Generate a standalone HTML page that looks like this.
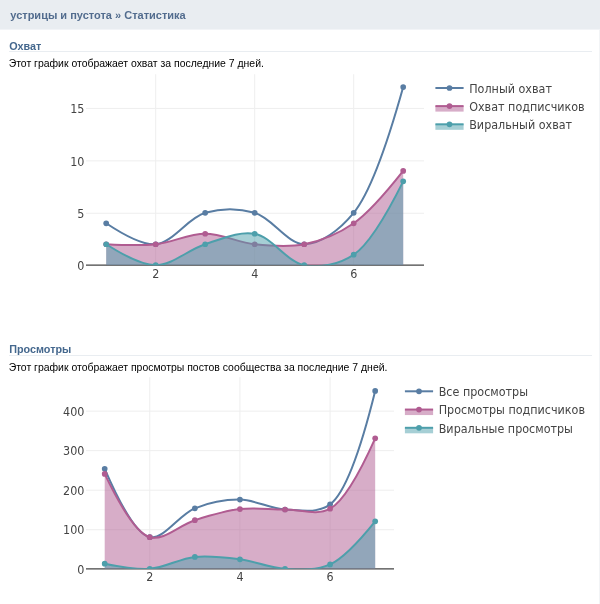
<!DOCTYPE html>
<html lang="ru"><head><meta charset="utf-8"><title>Статистика</title>
<style>
html,body{margin:0;padding:0;background:#fff;}
body{width:600px;height:604px;position:relative;overflow:hidden;font-family:"Liberation Sans",sans-serif;color:#000;}
.hdr{position:absolute;left:0;top:0;width:600px;height:30px;background:linear-gradient(to bottom,#e9edf1 29px,#f2f4f7 29px);}
  .hdr span{position:absolute;left:10.3px;top:9.2px;font-weight:bold;font-size:11px;line-height:13px;color:#526c8e;white-space:nowrap;}
.ttl{position:absolute;left:9.2px;width:582.8px;font-weight:bold;font-size:10.8px;line-height:12px;color:#45688e;border-bottom:1px solid #e9edf1;white-space:nowrap;}
.dsc{position:absolute;left:8.7px;font-size:10.45px;line-height:12px;color:#000;white-space:nowrap;transform:scaleY(1.05);transform-origin:0 9.5px;}
svg{position:absolute;left:0;top:0;}
svg text{font-family:'DejaVu Sans','Liberation Sans',sans-serif;}
</style></head><body>
<div style="position:absolute;left:599px;top:30px;width:1px;height:574px;background:#f2f4f6"></div>
<div class="hdr"><span>устрицы и пустота » Статистика</span></div>
<div class="ttl" style="top:40.4px;height:10.5px">Охват</div>
<div class="dsc" style="top:58.2px">Этот график отображает охват за последние 7 дней.</div>
<div class="ttl" style="top:343px;height:11.6px">Просмотры</div>
<div class="dsc" style="top:362px">Этот график отображает просмотры постов сообщества за последние 7 дней.</div>
<svg width="600" height="604" viewBox="0 0 600 604">
<line x1="155.70" x2="155.70" y1="74.2" y2="265.2" stroke="#eee" stroke-width="1"/>
<line x1="254.70" x2="254.70" y1="74.2" y2="265.2" stroke="#eee" stroke-width="1"/>
<line x1="353.70" x2="353.70" y1="74.2" y2="265.2" stroke="#eee" stroke-width="1"/>
<line x1="86" x2="424" y1="213.25" y2="213.25" stroke="#eee" stroke-width="1"/>
<line x1="86" x2="424" y1="160.85" y2="160.85" stroke="#eee" stroke-width="1"/>
<line x1="86" x2="424" y1="108.45" y2="108.45" stroke="#eee" stroke-width="1"/>
<line x1="86" x2="424" y1="265.2" y2="265.2" stroke="#444" stroke-width="1.25"/>
<clipPath id="clip1"><rect x="86" y="74.2" width="338" height="191.0"/></clipPath>
<g clip-path="url(#clip1)">
<path d="M106.20,223.28Q139.54,245.58 155.70,244.24C172.57,242.84 187.94,217.82 205.20,212.80C221.06,208.19 238.84,208.19 254.70,212.80C271.96,217.82 287.70,244.24 304.20,244.24C320.70,244.24 339.44,230.08 353.70,212.80Q375.35,186.56 403.20,87.04" fill="none" stroke="#597da3" stroke-width="2.0"/>
<circle cx="106.20" cy="223.28" r="2.85" fill="#597da3"/>
<circle cx="155.70" cy="244.24" r="2.85" fill="#597da3"/>
<circle cx="205.20" cy="212.80" r="2.85" fill="#597da3"/>
<circle cx="254.70" cy="212.80" r="2.85" fill="#597da3"/>
<circle cx="304.20" cy="244.24" r="2.85" fill="#597da3"/>
<circle cx="353.70" cy="212.80" r="2.85" fill="#597da3"/>
<circle cx="403.20" cy="87.04" r="2.85" fill="#597da3"/>
<path d="M106.20,244.24Q139.29,245.96 155.70,244.24C172.29,242.50 188.70,233.76 205.20,233.76C221.70,233.76 238.11,242.50 254.70,244.24C271.11,245.96 288.03,247.52 304.20,244.24C321.05,240.82 338.24,234.02 353.70,223.28Q371.60,210.84 403.20,170.88L403.20,265.2L106.20,265.2Z" fill="#b05c91" fill-opacity="0.5" stroke="none"/>
<path d="M106.20,244.24Q139.29,245.96 155.70,244.24C172.29,242.50 188.70,233.76 205.20,233.76C221.70,233.76 238.11,242.50 254.70,244.24C271.11,245.96 288.03,247.52 304.20,244.24C321.05,240.82 338.24,234.02 353.70,223.28Q371.60,210.84 403.20,170.88" fill="none" stroke="#b05c91" stroke-width="2.0"/>
<circle cx="106.20" cy="244.24" r="2.85" fill="#b05c91"/>
<circle cx="155.70" cy="244.24" r="2.85" fill="#b05c91"/>
<circle cx="205.20" cy="233.76" r="2.85" fill="#b05c91"/>
<circle cx="254.70" cy="244.24" r="2.85" fill="#b05c91"/>
<circle cx="304.20" cy="244.24" r="2.85" fill="#b05c91"/>
<circle cx="353.70" cy="223.28" r="2.85" fill="#b05c91"/>
<circle cx="403.20" cy="170.88" r="2.85" fill="#b05c91"/>
<path d="M106.20,244.24Q139.20,265.20 155.70,265.20C172.20,265.20 188.44,249.51 205.20,244.24C221.46,239.13 238.77,230.88 254.70,233.76C271.85,236.86 287.05,262.10 304.20,265.20C320.13,268.08 338.93,264.67 353.70,254.72Q373.23,241.56 403.20,181.36L403.20,265.2L106.20,265.2Z" fill="#4d9fab" fill-opacity="0.5" stroke="none"/>
<path d="M106.20,244.24Q139.20,265.20 155.70,265.20C172.20,265.20 188.44,249.51 205.20,244.24C221.46,239.13 238.77,230.88 254.70,233.76C271.85,236.86 287.05,262.10 304.20,265.20C320.13,268.08 338.93,264.67 353.70,254.72Q373.23,241.56 403.20,181.36" fill="none" stroke="#4d9fab" stroke-width="2.0"/>
<circle cx="106.20" cy="244.24" r="2.85" fill="#4d9fab"/>
<circle cx="155.70" cy="265.20" r="2.85" fill="#4d9fab"/>
<circle cx="205.20" cy="244.24" r="2.85" fill="#4d9fab"/>
<circle cx="254.70" cy="233.76" r="2.85" fill="#4d9fab"/>
<circle cx="304.20" cy="265.20" r="2.85" fill="#4d9fab"/>
<circle cx="353.70" cy="254.72" r="2.85" fill="#4d9fab"/>
<circle cx="403.20" cy="181.36" r="2.85" fill="#4d9fab"/>
</g>
<text transform="translate(84.40,269.90) scale(0.968,1)" text-anchor="end" font-size="11.55" fill="#444">0</text>
<text transform="translate(84.40,217.95) scale(0.968,1)" text-anchor="end" font-size="11.55" fill="#444">5</text>
<text transform="translate(84.40,165.55) scale(0.968,1)" text-anchor="end" font-size="11.55" fill="#444">10</text>
<text transform="translate(84.40,113.15) scale(0.968,1)" text-anchor="end" font-size="11.55" fill="#444">15</text>
<text transform="translate(155.70,277.80) scale(0.968,1)" text-anchor="middle" font-size="11.55" fill="#444">2</text>
<text transform="translate(254.70,277.80) scale(0.968,1)" text-anchor="middle" font-size="11.55" fill="#444">4</text>
<text transform="translate(353.70,277.80) scale(0.968,1)" text-anchor="middle" font-size="11.55" fill="#444">6</text>
<line x1="435.4" x2="463.59999999999997" y1="88" y2="88" stroke="#597da3" stroke-width="2.0"/>
<circle cx="449.50" cy="88" r="2.85" fill="#597da3"/>
<text transform="translate(469.20,92.70) scale(0.968,1)" font-size="11.55" fill="#444">Полный охват</text>
<rect x="435.4" y="106.1" width="28.2" height="5.5" fill="#b05c91" fill-opacity="0.5"/>
<line x1="435.4" x2="463.59999999999997" y1="106.1" y2="106.1" stroke="#b05c91" stroke-width="2.0"/>
<circle cx="449.50" cy="106.1" r="2.85" fill="#b05c91"/>
<text transform="translate(469.20,110.80) scale(0.968,1)" font-size="11.55" fill="#444">Охват подписчиков</text>
<rect x="435.4" y="124.3" width="28.2" height="5.5" fill="#4d9fab" fill-opacity="0.5"/>
<line x1="435.4" x2="463.59999999999997" y1="124.3" y2="124.3" stroke="#4d9fab" stroke-width="2.0"/>
<circle cx="449.50" cy="124.3" r="2.85" fill="#4d9fab"/>
<text transform="translate(469.20,129.00) scale(0.968,1)" font-size="11.55" fill="#444">Виральный охват</text>
<line x1="149.78" x2="149.78" y1="377.2" y2="568.8" stroke="#eee" stroke-width="1"/>
<line x1="239.94" x2="239.94" y1="377.2" y2="568.8" stroke="#eee" stroke-width="1"/>
<line x1="330.10" x2="330.10" y1="377.2" y2="568.8" stroke="#eee" stroke-width="1"/>
<line x1="86" x2="394" y1="529.72" y2="529.72" stroke="#eee" stroke-width="1"/>
<line x1="86" x2="394" y1="490.19" y2="490.19" stroke="#eee" stroke-width="1"/>
<line x1="86" x2="394" y1="450.66" y2="450.66" stroke="#eee" stroke-width="1"/>
<line x1="86" x2="394" y1="411.13" y2="411.13" stroke="#eee" stroke-width="1"/>
<line x1="86" x2="394" y1="568.8" y2="568.8" stroke="#444" stroke-width="1.25"/>
<clipPath id="clip2"><rect x="86" y="377.2" width="308" height="191.59999999999997"/></clipPath>
<g clip-path="url(#clip2)">
<path d="M104.70,468.79Q132.78,533.57 149.78,537.18C163.52,540.09 179.21,514.57 194.86,508.32C209.35,502.53 224.93,499.43 239.94,499.62C254.99,499.81 269.93,508.73 285.02,509.50C299.98,510.27 317.29,514.16 330.10,504.37Q351.10,488.30 375.18,390.91" fill="none" stroke="#597da3" stroke-width="2.0"/>
<circle cx="104.70" cy="468.79" r="2.85" fill="#597da3"/>
<circle cx="149.78" cy="537.18" r="2.85" fill="#597da3"/>
<circle cx="194.86" cy="508.32" r="2.85" fill="#597da3"/>
<circle cx="239.94" cy="499.62" r="2.85" fill="#597da3"/>
<circle cx="285.02" cy="509.50" r="2.85" fill="#597da3"/>
<circle cx="330.10" cy="504.37" r="2.85" fill="#597da3"/>
<circle cx="375.18" cy="390.91" r="2.85" fill="#597da3"/>
<path d="M104.70,473.93Q132.49,531.91 149.78,537.18C163.40,541.32 179.69,524.88 194.86,520.18C209.75,515.56 224.80,510.87 239.94,509.11C254.86,507.37 269.99,509.57 285.02,509.50C300.05,509.44 316.76,516.16 330.10,508.71Q348.26,498.58 375.18,438.35L375.18,568.8L104.70,568.8Z" fill="#b05c91" fill-opacity="0.5" stroke="none"/>
<path d="M104.70,473.93Q132.49,531.91 149.78,537.18C163.40,541.32 179.69,524.88 194.86,520.18C209.75,515.56 224.80,510.87 239.94,509.11C254.86,507.37 269.99,509.57 285.02,509.50C300.05,509.44 316.76,516.16 330.10,508.71Q348.26,498.58 375.18,438.35" fill="none" stroke="#b05c91" stroke-width="2.0"/>
<circle cx="104.70" cy="473.93" r="2.85" fill="#b05c91"/>
<circle cx="149.78" cy="537.18" r="2.85" fill="#b05c91"/>
<circle cx="194.86" cy="520.18" r="2.85" fill="#b05c91"/>
<circle cx="239.94" cy="509.11" r="2.85" fill="#b05c91"/>
<circle cx="285.02" cy="509.50" r="2.85" fill="#b05c91"/>
<circle cx="330.10" cy="508.71" r="2.85" fill="#b05c91"/>
<circle cx="375.18" cy="438.35" r="2.85" fill="#b05c91"/>
<path d="M104.70,563.66Q134.85,569.87 149.78,568.80C164.91,567.71 179.71,558.50 194.86,556.94C209.77,555.41 224.99,557.36 239.94,559.31C255.04,561.29 269.93,567.96 285.02,568.80C299.98,569.63 316.10,570.87 330.10,564.45Q346.53,556.93 375.18,521.36L375.18,568.8L104.70,568.8Z" fill="#4d9fab" fill-opacity="0.5" stroke="none"/>
<path d="M104.70,563.66Q134.85,569.87 149.78,568.80C164.91,567.71 179.71,558.50 194.86,556.94C209.77,555.41 224.99,557.36 239.94,559.31C255.04,561.29 269.93,567.96 285.02,568.80C299.98,569.63 316.10,570.87 330.10,564.45Q346.53,556.93 375.18,521.36" fill="none" stroke="#4d9fab" stroke-width="2.0"/>
<circle cx="104.70" cy="563.66" r="2.85" fill="#4d9fab"/>
<circle cx="149.78" cy="568.80" r="2.85" fill="#4d9fab"/>
<circle cx="194.86" cy="556.94" r="2.85" fill="#4d9fab"/>
<circle cx="239.94" cy="559.31" r="2.85" fill="#4d9fab"/>
<circle cx="285.02" cy="568.80" r="2.85" fill="#4d9fab"/>
<circle cx="330.10" cy="564.45" r="2.85" fill="#4d9fab"/>
<circle cx="375.18" cy="521.36" r="2.85" fill="#4d9fab"/>
</g>
<text transform="translate(84.40,573.50) scale(0.968,1)" text-anchor="end" font-size="11.55" fill="#444">0</text>
<text transform="translate(84.40,534.42) scale(0.968,1)" text-anchor="end" font-size="11.55" fill="#444">100</text>
<text transform="translate(84.40,494.89) scale(0.968,1)" text-anchor="end" font-size="11.55" fill="#444">200</text>
<text transform="translate(84.40,455.36) scale(0.968,1)" text-anchor="end" font-size="11.55" fill="#444">300</text>
<text transform="translate(84.40,415.83) scale(0.968,1)" text-anchor="end" font-size="11.55" fill="#444">400</text>
<text transform="translate(149.78,581.40) scale(0.968,1)" text-anchor="middle" font-size="11.55" fill="#444">2</text>
<text transform="translate(239.94,581.40) scale(0.968,1)" text-anchor="middle" font-size="11.55" fill="#444">4</text>
<text transform="translate(330.10,581.40) scale(0.968,1)" text-anchor="middle" font-size="11.55" fill="#444">6</text>
<line x1="404.9" x2="433.09999999999997" y1="391.3" y2="391.3" stroke="#597da3" stroke-width="2.0"/>
<circle cx="419.00" cy="391.3" r="2.85" fill="#597da3"/>
<text transform="translate(438.70,396.00) scale(0.968,1)" font-size="11.55" fill="#444">Все просмотры</text>
<rect x="404.9" y="409.55" width="28.2" height="5.5" fill="#b05c91" fill-opacity="0.5"/>
<line x1="404.9" x2="433.09999999999997" y1="409.55" y2="409.55" stroke="#b05c91" stroke-width="2.0"/>
<circle cx="419.00" cy="409.55" r="2.85" fill="#b05c91"/>
<text transform="translate(438.70,414.25) scale(0.968,1)" font-size="11.55" fill="#444">Просмотры подписчиков</text>
<rect x="404.9" y="427.8" width="28.2" height="5.5" fill="#4d9fab" fill-opacity="0.5"/>
<line x1="404.9" x2="433.09999999999997" y1="427.8" y2="427.8" stroke="#4d9fab" stroke-width="2.0"/>
<circle cx="419.00" cy="427.8" r="2.85" fill="#4d9fab"/>
<text transform="translate(438.70,432.50) scale(0.968,1)" font-size="11.55" fill="#444">Виральные просмотры</text>
</svg>
</body></html>
